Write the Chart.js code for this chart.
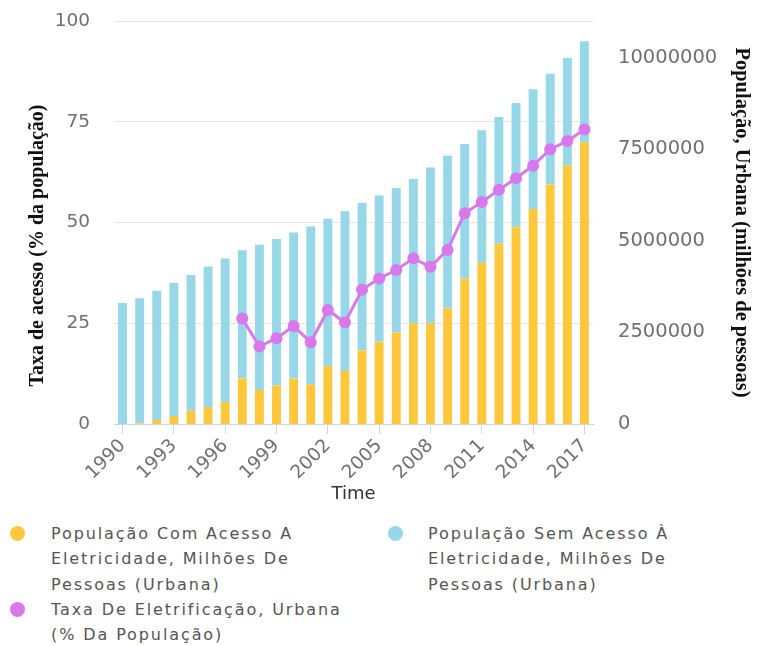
<!DOCTYPE html>
<html lang="pt">
<head>
<meta charset="utf-8">
<script src="https://cdn.jsdelivr.net/npm/chart.js@4.4.1/dist/chart.umd.min.js"></script>
<style>
  html, body { margin: 0; padding: 0; background: #ffffff; }
  #wrap { position: relative; width: 759px; height: 646px; overflow: hidden; }
  #box { position: absolute; left: 0; top: 0; width: 759px; height: 505px; }
  #legend { position: absolute; left: 0; top: 521px; width: 759px; font-family: "DejaVu Sans", "Open Sans", sans-serif; font-size: 16px; letter-spacing: 1.9px; line-height: 25.3px; color: #555; }
  .item { position: absolute; white-space: nowrap; }
  .dot { position: absolute; width: 15px; height: 15px; border-radius: 50%; }
</style>
</head>
<body>
<div id="wrap">
  <div id="box"><canvas id="chart"></canvas></div>
  <div id="legend"></div>
</div>
<script>
// Anos da série
const years = [1990, 1991, 1992, 1993, 1994, 1995, 1996, 1997, 1998, 1999,
               2000, 2001, 2002, 2003, 2004, 2005, 2006, 2007, 2008, 2009,
               2010, 2011, 2012, 2013, 2014, 2015, 2016, 2017];

// População urbana com acesso à eletricidade (pessoas)
const comAcesso = [0, 20000, 110000, 220000, 360000, 460000, 600000, 1240000, 930000, 1050000,
                   1240000, 1080000, 1580000, 1450000, 2010000, 2250000, 2500000, 2750000, 2750000, 3150000,
                   3970000, 4400000, 4920000, 5370000, 5870000, 6540000, 7060000, 7690000];

// População urbana sem acesso à eletricidade (pessoas)
const semAcesso = [3300000, 3410000, 3530000, 3630000, 3710000, 3840000, 3920000, 3500000, 3960000, 4000000,
                   3990000, 4310000, 4020000, 4360000, 4020000, 3990000, 3940000, 3940000, 4250000, 4170000,
                   3670000, 3620000, 3460000, 3390000, 3270000, 3020000, 2930000, 2760000];

// Taxa de eletrificação urbana (% da população)
const taxa = [null, null, null, null, null, null, null, 26.2, 19.2, 21.3,
              24.3, 20.3, 28.3, 25.2, 33.3, 36.1, 38.2, 41.1, 39.0, 43.2,
              52.3, 55.1, 58.1, 61.0, 64.1, 68.2, 70.2, 73.1];

// Marcas dos eixos
const leftTicks = [0, 25, 50, 75, 100];
const rightTicks = [0, 2500000, 5000000, 7500000, 10000000];

const names = {
  com: "População Com Acesso A Eletricidade, Milhões De Pessoas (Urbana)",
  sem: "População Sem Acesso À Eletricidade, Milhões De Pessoas (Urbana)",
  taxa: "Taxa De Eletrificação, Urbana (% Da População)"
};
const leftTitle = "Taxa de acesso (% da população)";
const rightTitle = "População, Urbana (milhões de pessoas)";

const YELLOW = "#ffc83c";
const CYAN = "#96d8e7";
const VIOLET = "#d878ec";
const TICK = "#707070";
const AXIS = "#ccd6eb";
const TICK_FONT = { family: "DejaVu Sans, Verdana, sans-serif", size: 18.5 };
const TITLE_FONT = "bold 20px 'Liberation Serif', 'Times New Roman', serif";

// Vertical axes get their label half-heights and tick padding as layout padding;
// drop that so the plot area top is set by layout.padding alone.
const noVerticalPadding = s => { s.paddingTop = 0; s.paddingBottom = 0; };

// Left axis title, drawn a little below the middle of the plot area
const leftTitlePlugin = {
  id: "leftTitle",
  afterDraw(chart) {
    const { ctx, chartArea } = chart;
    ctx.save();
    ctx.translate(38, (chartArea.top + chartArea.bottom) / 2 + 23);
    ctx.rotate(-Math.PI / 2);
    ctx.font = TITLE_FONT;
    ctx.fillStyle = "#111";
    ctx.textAlign = "center";
    ctx.textBaseline = "middle";
    ctx.fillText(leftTitle, 0, 0);
    ctx.restore();
  }
};

const chart = new Chart(document.getElementById("chart"), {
  data: {
    labels: years.map(String),
    datasets: [
      {
        type: "line", label: names.taxa, data: taxa, yAxisID: "y", order: 0,
        borderColor: VIOLET, backgroundColor: VIOLET, borderWidth: 3,
        pointRadius: 6, pointHoverRadius: 6, pointBorderWidth: 0, spanGaps: false, tension: 0
      },
      {
        type: "bar", label: names.com, data: comAcesso, yAxisID: "y1", order: 1, stack: "pop",
        backgroundColor: YELLOW, barPercentage: 0.52, categoryPercentage: 1
      },
      {
        type: "bar", label: names.sem, data: semAcesso, yAxisID: "y1", order: 2, stack: "pop",
        backgroundColor: CYAN, barPercentage: 0.52, categoryPercentage: 1
      }
    ]
  },
  plugins: [leftTitlePlugin],
  options: {
    responsive: true,
    maintainAspectRatio: false,
    animation: false,
    layout: { padding: { top: 21, left: 0, right: 0, bottom: 0 } },
    plugins: { legend: { display: false }, tooltip: { enabled: false } },
    scales: {
      x: {
        stacked: true,
        offset: true,
        afterFit: s => { s.height = 81; },
        afterBuildTicks: s => { s.ticks = s.ticks.filter((t, i) => i % 3 === 0); },
        grid: { offset: false, drawOnChartArea: false, drawTicks: true, tickLength: 10, color: AXIS, lineWidth: 1 },
        border: { display: true, color: AXIS, width: 1 },
        ticks: { autoSkip: false, minRotation: 45, maxRotation: 45, padding: 1, color: TICK, font: TICK_FONT },
        title: { display: true, text: "Time", color: "#333", padding: { top: 0, bottom: 0 },
                 font: { family: "DejaVu Sans, Verdana, sans-serif", size: 18 } }
      },
      y: {
        position: "left",
        min: 0, max: 100,
        afterFit: s => { s.width = 114; noVerticalPadding(s); },
        afterBuildTicks: s => { s.ticks = leftTicks.map(v => ({ value: v })); },
        grid: { color: "#e6e6e6", drawTicks: false, lineWidth: 1 },
        border: { display: false },
        ticks: { padding: 24, color: TICK, font: TICK_FONT },
        title: { display: false }
      },
      y1: {
        position: "right",
        stacked: true,
        min: 0, max: 11000000,
        afterFit: s => { s.width = 166; noVerticalPadding(s); },
        afterBuildTicks: s => { s.ticks = rightTicks.map(v => ({ value: v })); },
        grid: { display: false, drawOnChartArea: false, drawTicks: false },
        border: { display: false },
        ticks: { padding: 25, color: TICK, callback: v => String(v),
                 font: { family: "DejaVu Sans, Verdana, sans-serif", size: 19.5 } },
        title: { display: true, text: rightTitle, color: "#111",
                 padding: { top: 5, bottom: 0 },
                 font: { family: "Liberation Serif, Times New Roman, serif", size: 20.5, weight: "bold" } }
      }
    }
  }
});

// Legenda em HTML, montada a partir dos conjuntos de dados do gráfico
const legendSpec = [
  { ds: 1, lines: ["População Com Acesso A", "Eletricidade, Milhões De", "Pessoas (Urbana)"], x: 51, y: 0, dotX: 10 },
  { ds: 2, lines: ["População Sem Acesso À", "Eletricidade, Milhões De", "Pessoas (Urbana)"], x: 428, y: 0, dotX: 388 },
  { ds: 0, lines: ["Taxa De Eletrificação, Urbana", "(% Da População)"], x: 51, y: 76, dotX: 10 }
];
const legend = document.getElementById("legend");
legendSpec.forEach(spec => {
  const ds = chart.data.datasets[spec.ds];
  const dot = document.createElement("div");
  dot.className = "dot";
  dot.style.left = spec.dotX + "px";
  dot.style.top = (spec.y + 5) + "px";
  dot.style.background = ds.backgroundColor;
  legend.appendChild(dot);
  const item = document.createElement("div");
  item.className = "item";
  item.style.left = spec.x + "px";
  item.style.top = spec.y + "px";
  item.innerHTML = spec.lines.join("<br>");
  legend.appendChild(item);
});
</script>
</body>
</html>
